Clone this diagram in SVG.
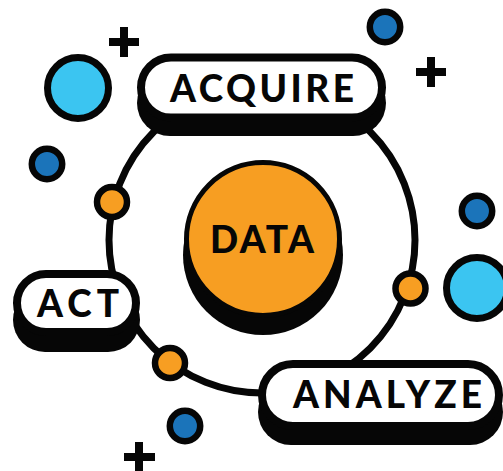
<svg xmlns="http://www.w3.org/2000/svg" width="503" height="471" viewBox="0 0 503 471">
<style>
.ink{fill:#060606}
.pill{fill:#fff;stroke:#060606;stroke-width:8}
.lbl{font-family:Lato,"Liberation Sans",sans-serif;font-weight:900;font-size:37px;fill:#060606}
.dot{stroke:#060606;stroke-width:6.5}
.big{fill:#3bc5f1;stroke:#060606;stroke-width:7}
.dk{fill:#1b74ba}
.or{fill:#f79e22}
.plus{stroke:#060606;stroke-width:8;fill:none}
</style>
<rect width="503" height="471" fill="#fff"/>
<g id="connectors">
<circle cx="262" cy="240" r="153" fill="none" stroke="#060606" stroke-width="7"/>
</g>
<g id="deco">
<circle class="big" cx="78" cy="88" r="30.5"/>
<circle class="big" cx="477" cy="288" r="30.5"/>
<circle class="dot dk" cx="385" cy="27" r="15.2"/>
<circle class="dot dk" cx="47" cy="164" r="15.2"/>
<circle class="dot dk" cx="477" cy="211" r="15.2"/>
<circle class="dot dk" cx="185" cy="426" r="15.2"/>
<path class="plus" d="M109 42h30M124 27v30"/>
<path class="plus" d="M416 72h30M431 57v30"/>
<path class="plus" d="M124 457h31M139 442v30"/>
</g>
<g id="dots">
<circle class="dot or" cx="112" cy="202" r="15"/>
<circle class="dot or" cx="410.5" cy="288.5" r="15"/>
<circle class="dot or" cx="170" cy="363" r="15"/>
</g>
<g id="data">
<circle class="ink" cx="263" cy="255" r="80"/>
<circle cx="263" cy="239" r="76.5" fill="#f79e22" stroke="#060606" stroke-width="5"/>
<text class="lbl" x="210" y="253" textLength="104" lengthAdjust="spacing">DATA</text>
</g>
<g id="acquire">
<rect class="ink" x="137" y="70" width="249" height="66" rx="33"/>
<rect class="pill" x="141" y="57.5" width="241" height="60" rx="30"/>
<text class="lbl" x="170" y="102" textLength="184" lengthAdjust="spacing">ACQUIRE</text>
</g>
<g id="act">
<rect class="ink" x="13" y="288" width="127" height="64" rx="32"/>
<rect class="pill" x="17" y="274" width="119" height="58" rx="29"/>
<text class="lbl" x="37" y="316.5" font-size="36" textLength="82" lengthAdjust="spacing">ACT</text>
</g>
<g id="analyze">
<rect class="ink" x="258" y="379" width="245" height="66" rx="33"/>
<rect class="pill" x="262" y="364" width="237" height="62" rx="31"/>
<text class="lbl" x="293" y="408" textLength="189" lengthAdjust="spacing">ANALYZE</text>
</g>
</svg>
